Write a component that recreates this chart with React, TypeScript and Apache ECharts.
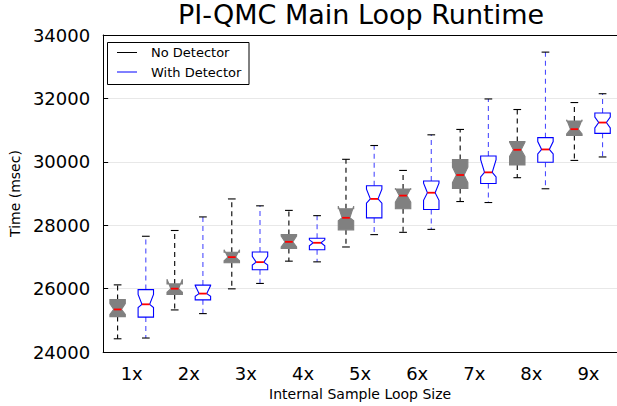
import React, { useEffect, useRef } from "react";
import * as echarts from "echarts";

const categories = ["1x", "2x", "3x", "4x", "5x", "6x", "7x", "8x", "9x"];
const yTicks = { min: 24000, max: 34000, interval: 2000 };

// [min, q1, median, q3, max]
const noDetector = [
  [24420, 25120, 25345, 25660, 26120],
  [25330, 25815, 26000, 26150, 27835],
  [25995, 26820, 26995, 27150, 28830],
  [26868, 27270, 27477, 27705, 28469],
  [27315, 27855, 28235, 28520, 30080],
  [27777, 28521, 28935, 29141, 29729],
  [28748, 29162, 29585, 30071, 31022],
  [29500, 29900, 30380, 30640, 31650],
  [30045, 30830, 31030, 31290, 31870],
];
// notch [low, high]
const noDetectorNotch = [
  [25190, 25530],
  [25890, 26300],
  [26880, 27230],
  [27320, 27660],
  [28140, 28605],
  [28728, 29170],
  [29348, 29833],
  [30174, 30620],
  [30880, 31330],
];

const withDetector = [
  [24444, 25104, 25507, 25971, 27653],
  [25214, 25648, 25845, 26113, 28263],
  [26165, 26599, 26837, 27157, 28613],
  [26846, 27230, 27447, 27590, 28303],
  [27705, 28232, 28831, 29244, 30515],
  [27870, 28499, 29026, 29397, 30852],
  [28717, 29317, 29668, 30185, 31983],
  [29151, 29988, 30391, 30763, 33460],
  [30154, 30898, 31239, 31538, 32148],
];
const withDetectorNotch = [
  [25404, 25816],
  [25762, 26100],
  [26744, 27023],
  [27354, 27540],
  [28697, 29141],
  [28788, 29330],
  [29523, 30071],
  [30247, 30639],
  [31073, 31414],
];

const FONT = "DejaVu Sans";

function buildData(stats: number[][], notch: number[][]) {
  return stats.map((s, i) => [i, s[0], s[1], notch[i][0], s[2], notch[i][1], s[3], s[4]]);
}

function makeRender(side: number, fill: string, stroke: string, whisker: string) {
  return (params: any, api: any) => {
    const i = api.value(0);
    const band = api.size([1, 0])[0];
    const cx = api.coord([i, api.value(4)])[0] + side * band * 0.247;
    const hw = band * 0.135;
    const Y = (k: number) => api.coord([i, api.value(k)])[1];
    const mn = Y(1), q1 = Y(2), lo = Y(3), md = Y(4), hi = Y(5), q3 = Y(6), mx = Y(7);
    const L = cx - hw, R = cx + hw, nl = cx - hw / 2, nr = cx + hw / 2;
    const dash = { stroke: whisker, lineWidth: 1.1, lineDash: [5, 4] };
    const cap = { stroke: "#000", lineWidth: 1.1 };
    return {
      type: "group",
      children: [
        { type: "line", shape: { x1: cx, y1: q3, x2: cx, y2: mx }, style: dash },
        { type: "line", shape: { x1: cx, y1: q1, x2: cx, y2: mn }, style: dash },
        { type: "line", shape: { x1: nl, y1: mx, x2: nr, y2: mx }, style: cap },
        { type: "line", shape: { x1: nl, y1: mn, x2: nr, y2: mn }, style: cap },
        {
          type: "polygon",
          shape: {
            points: [
              [L, q1], [R, q1], [R, lo], [nr, md], [R, hi], [R, q3],
              [L, q3], [L, hi], [nl, md], [L, lo], [L, q1],
            ],
          },
          style: { fill, stroke, lineWidth: 1.1 },
        },
        { type: "line", shape: { x1: nl, y1: md, x2: nr, y2: md }, style: { stroke: "#ff0000", lineWidth: 1.8 } },
      ],
    };
  };
}

export default function App() {
  const ref = useRef<HTMLDivElement>(null);
  useEffect(() => {
    if (!ref.current) return;
    const chart = echarts.init(ref.current, null, { renderer: "svg" });
    const axisLineStyle = { color: "#000", width: 1 };
    chart.setOption({
      animation: false,
      backgroundColor: "#fff",
      title: {
        text: "PI-QMC Main Loop Runtime",
        left: 361,
        top: 1,
        padding: 0,
        textAlign: "center",
        textStyle: { fontFamily: FONT, fontSize: 27, fontWeight: "normal", color: "#000" },
      },
      grid: { left: 101, top: 35, width: 521, height: 322.5 },
      xAxis: [
        {
          type: "category",
          data: categories,
          position: "bottom",
          boundaryGap: true,
          name: "Internal Sample Loop Size",
          nameLocation: "middle",
          nameGap: 34,
          nameTextStyle: { fontFamily: FONT, fontSize: 14, color: "#000" },
          axisLine: { lineStyle: axisLineStyle },
          axisTick: { inside: true, alignWithLabel: true, length: 5, lineStyle: axisLineStyle },
          axisLabel: { fontFamily: FONT, fontSize: 18, color: "#000", margin: 12 },
          splitLine: { show: false },
        },
        {
          type: "category",
          data: categories,
          position: "top",
          boundaryGap: true,
          axisLine: { lineStyle: axisLineStyle },
          axisTick: { inside: true, alignWithLabel: true, length: 5, lineStyle: axisLineStyle },
          axisLabel: { show: false },
          splitLine: { show: false },
        },
      ],
      yAxis: {
        type: "value",
        min: yTicks.min,
        max: yTicks.max,
        interval: yTicks.interval,
        name: "Time (msec)",
        nameLocation: "middle",
        nameGap: 75,
        nameTextStyle: { fontFamily: FONT, fontSize: 14, color: "#000" },
        axisLine: { show: true, lineStyle: axisLineStyle },
        axisTick: { show: true, inside: true, length: 5, lineStyle: axisLineStyle },
        axisLabel: {
          fontFamily: FONT,
          fontSize: 18,
          color: "#000",
          margin: 13,
          showMinLabel: true,
          showMaxLabel: true,
          hideOverlap: false,
          formatter: (v: number) => String(v),
        },
        splitLine: { show: true, lineStyle: { color: "#e8e8e8", width: 1.2 } },
      },
      graphic: [
        { type: "rect", shape: { x: 107.5, y: 42.5, width: 141.5, height: 42 }, style: { fill: "#fff", stroke: "#000", lineWidth: 1 }, z: 100 },
        { type: "line", shape: { x1: 117, y1: 52.5, x2: 137, y2: 52.5 }, style: { stroke: "#000", lineWidth: 1 }, z: 101 },
        { type: "line", shape: { x1: 117, y1: 72, x2: 137, y2: 72 }, style: { stroke: "#0000ff", lineWidth: 1 }, z: 101 },
        { type: "text", x: 151, y: 52.5, style: { text: "No Detector", fontFamily: FONT, fontSize: 13, fill: "#000", verticalAlign: "middle" }, z: 101 },
        { type: "text", x: 151, y: 72, style: { text: "With Detector", fontFamily: FONT, fontSize: 13, fill: "#000", verticalAlign: "middle" }, z: 101 },
      ],
      series: [
        {
          name: "No Detector",
          type: "custom",
          xAxisIndex: 0,
          yAxisIndex: 0,
          renderItem: makeRender(-1, "#808080", "#808080", "#000"),
          encode: { x: 0, y: [1, 2, 3, 4, 5, 6, 7] },
          itemStyle: { color: "#000" },
          data: buildData(noDetector, noDetectorNotch),
          z: 3,
        },
        {
          name: "With Detector",
          type: "custom",
          xAxisIndex: 0,
          yAxisIndex: 0,
          renderItem: makeRender(1, "#ffffff", "#0000ff", "#4d4dff"),
          encode: { x: 0, y: [1, 2, 3, 4, 5, 6, 7] },
          itemStyle: { color: "#0000ff" },
          data: buildData(withDetector, withDetectorNotch),
          z: 3,
        },
      ],
    });
    return () => chart.dispose();
  }, []);
  return <div ref={ref} style={{ position: "absolute", left: 0, top: 0, width: 617, height: 406 }} />;
}
